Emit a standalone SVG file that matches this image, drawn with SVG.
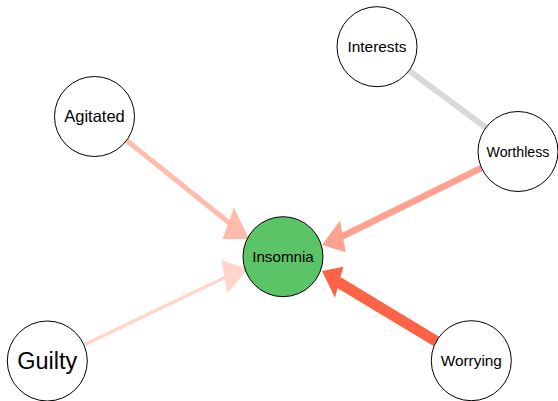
<svg xmlns="http://www.w3.org/2000/svg" width="558" height="401" viewBox="0 0 558 401">
<style>
.node circle{fill:#ffffff;stroke:#000000;stroke-width:1}
.node text{font-family:"Liberation Sans",Arial,sans-serif;text-anchor:middle;fill:#000000}
.edge{fill:none;stroke-linecap:butt}
</style>
<rect width="558" height="401" fill="#ffffff"/>
<g id="connectors">
<line class="edge" x1="409.1" y1="70.6" x2="485.9" y2="127.6" stroke="#D9D9D9" stroke-width="6"/>
<line class="edge" x1="126.6" y1="140.4" x2="230" y2="223.5" stroke="#FFBCAD" stroke-width="5"/>
<polygon points="234,207.5 222.5,239 249,239" fill="#FFBCAD"/>
<line class="edge" x1="83.9" y1="344.8" x2="226" y2="277" stroke="#FFD6CC" stroke-width="3.5"/>
<polygon points="221.3,260 227.3,293.3 248,269" fill="#FFD6CC"/>
<line class="edge" x1="481.5" y1="167.8" x2="341" y2="237" stroke="#FFA191" stroke-width="6.5"/>
<polygon points="340,220.5 345.7,252.3 322,245" fill="#FFA191"/>
<line class="edge" x1="436.3" y1="341.4" x2="338" y2="282" stroke="#FF6347" stroke-width="11"/>
<polygon points="343.3,266.7 335,297.7 322,271" fill="#FF6347"/>
</g>
<g id="node-interests" class="node"><circle cx="377" cy="46.7" r="40"/><text x="377" y="52.2" font-size="15.4">Interests</text></g>
<g id="node-agitated" class="node"><circle cx="94.5" cy="116.5" r="40"/><text x="94.5" y="122.3" font-size="16.5">Agitated</text></g>
<g id="node-worthless" class="node"><circle cx="518" cy="151.5" r="40"/><text x="518" y="156.6" font-size="14.2">Worthless</text></g>
<g id="node-insomnia" class="node"><circle cx="283" cy="256.7" r="40" style="fill:#5BC467"/><text x="283" y="262.2" font-size="15.2">Insomnia</text></g>
<g id="node-guilty" class="node"><circle cx="47.3" cy="361" r="40"/><text x="47.3" y="369.4" font-size="23.5">Guilty</text></g>
<g id="node-worrying" class="node"><circle cx="471.3" cy="360.7" r="40"/><text x="471.3" y="366.2" font-size="15.4">Worrying</text></g>
</svg>
